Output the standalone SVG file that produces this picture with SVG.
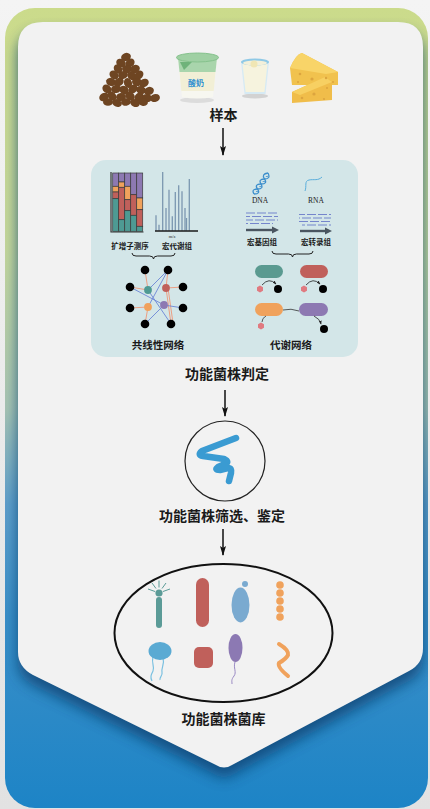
<svg xmlns="http://www.w3.org/2000/svg" width="430" height="809" viewBox="0 0 430 809">
  <defs>
    <linearGradient id="frameGrad" x1="0" y1="0" x2="0" y2="1">
      <stop offset="0" stop-color="#cbdb8b"/>
      <stop offset="0.3" stop-color="#c4d79b"/>
      <stop offset="0.5" stop-color="#a7c4b3"/>
      <stop offset="0.62" stop-color="#5f9fcb"/>
      <stop offset="0.76" stop-color="#3a8fc8"/>
      <stop offset="1" stop-color="#1d84c6"/>
    </linearGradient>
    <linearGradient id="bgGrad" x1="0" y1="0" x2="0" y2="1">
      <stop offset="0" stop-color="#f4f4f4"/>
      <stop offset="1" stop-color="#e2e2e2"/>
    </linearGradient>
    <filter id="shadowBlur" x="-10%" y="-10%" width="120%" height="130%">
      <feGaussianBlur stdDeviation="7"/>
    </filter>
    <clipPath id="frameClip">
      <rect x="5" y="8" width="423" height="800" rx="30"/>
    </clipPath>
    <marker id="arrow" viewBox="0 0 10 6" refX="9" refY="3" markerWidth="10" markerHeight="6" markerUnits="userSpaceOnUse" orient="auto">
      <path d="M0,0 L10,3 L0,6 L2,3 Z" fill="#111"/>
    </marker>
    <marker id="tinyArrow" viewBox="0 0 6 4" refX="5" refY="2" markerWidth="4" markerHeight="3" markerUnits="userSpaceOnUse" orient="auto">
      <path d="M0,0 L6,2 L0,4 Z" fill="#222"/>
    </marker>
    <style>
      .cn { font-family: "Noto Sans CJK SC", "Noto Sans", sans-serif; fill: #1a1a1a; text-anchor: middle; }
      .big { font-size: 14px; font-weight: 700; }
      .mid { font-size: 10.5px; font-weight: 700; }
      .small { font-size: 7.5px; font-weight: 700; }
      .lat { font-family: "Liberation Serif", serif; fill: #222; text-anchor: middle; font-size: 7.5px; }
      .flow { stroke: #111; stroke-width: 1.5; fill: none; }
      .seg { stroke: #3a3a3a; stroke-width: 0.7; }
      .peak { stroke: #7b97b0; stroke-width: 1.3; }
      .bean { fill: #6e4522; }
      .eo { stroke: #ee9677; stroke-width: 0.9; }
      .eb { stroke: #6c86d6; stroke-width: 0.9; }
      .read { stroke: #7585cc; stroke-width: 1.2; stroke-dasharray: 9 2; }
      .brace { stroke: #222; stroke-width: 1; fill: none; }
      .hole { fill: #dca53f; }
    </style>
  </defs>

  <!-- backdrop and frame -->
  <rect width="430" height="809" fill="url(#bgGrad)"/>
  <rect x="5" y="8" width="423" height="800" rx="30" fill="url(#frameGrad)"/>

  <!-- card shadow under the chevron -->
  <g clip-path="url(#frameClip)">
    <path d="M18,47 Q18,22 43,22 H398 Q423,22 423,47 V648 Q423,664 409,671 L232,765 Q224,770 216,765 L33,675 Q18,667 18,652 Z" fill="#0c3e6c" opacity="0.75" filter="url(#shadowBlur)" transform="translate(0,10)"/>
  </g>

  <!-- white card -->
  <path id="card" d="M18,47 Q18,22 43,22 H398 Q423,22 423,47 V648 Q423,664 409,671 L232,765 Q224,770 216,765 L33,675 Q18,667 18,652 Z" fill="#f2f2f2"/>

  <!-- sample icons -->
  <g id="samples">
    <g id="beans">
      <ellipse class="bean" cx="126" cy="57" rx="5" ry="4" transform="rotate(-20 126 57)"/>
      <ellipse class="bean" cx="121" cy="63" rx="5" ry="4" transform="rotate(30 121 63)"/>
      <ellipse class="bean" cx="130" cy="63" rx="5" ry="4" transform="rotate(-40 130 63)"/>
      <ellipse class="bean" cx="118" cy="69" rx="5" ry="4" transform="rotate(60 118 69)"/>
      <ellipse class="bean" cx="127" cy="69" rx="5" ry="4" transform="rotate(10 127 69)"/>
      <ellipse class="bean" cx="135" cy="69" rx="5" ry="4" transform="rotate(-25 135 69)"/>
      <ellipse class="bean" cx="114" cy="75" rx="5" ry="4" transform="rotate(45 114 75)"/>
      <ellipse class="bean" cx="123" cy="75" rx="5" ry="4" transform="rotate(-15 123 75)"/>
      <ellipse class="bean" cx="132" cy="76" rx="5" ry="4" transform="rotate(35 132 76)"/>
      <ellipse class="bean" cx="139" cy="75" rx="5" ry="4" transform="rotate(-50 139 75)"/>
      <ellipse class="bean" cx="111" cy="82" rx="5" ry="4" transform="rotate(20 111 82)"/>
      <ellipse class="bean" cx="119" cy="82" rx="5" ry="4" transform="rotate(-35 119 82)"/>
      <ellipse class="bean" cx="128" cy="83" rx="5" ry="4" transform="rotate(70 128 83)"/>
      <ellipse class="bean" cx="137" cy="82" rx="5" ry="4" transform="rotate(5 137 82)"/>
      <ellipse class="bean" cx="144" cy="83" rx="5" ry="4" transform="rotate(-30 144 83)"/>
      <ellipse class="bean" cx="107" cy="89" rx="5" ry="4" transform="rotate(40 107 89)"/>
      <ellipse class="bean" cx="116" cy="89" rx="5" ry="4" transform="rotate(-10 116 89)"/>
      <ellipse class="bean" cx="124" cy="90" rx="5" ry="4" transform="rotate(25 124 90)"/>
      <ellipse class="bean" cx="133" cy="89" rx="5" ry="4" transform="rotate(-45 133 89)"/>
      <ellipse class="bean" cx="141" cy="90" rx="5" ry="4" transform="rotate(15 141 90)"/>
      <ellipse class="bean" cx="149" cy="91" rx="5" ry="4" transform="rotate(-20 149 91)"/>
      <ellipse class="bean" cx="104" cy="97" rx="5" ry="4" transform="rotate(-30 104 97)"/>
      <ellipse class="bean" cx="112" cy="96" rx="5" ry="4" transform="rotate(50 112 96)"/>
      <ellipse class="bean" cx="121" cy="97" rx="5" ry="4" transform="rotate(-5 121 97)"/>
      <ellipse class="bean" cx="130" cy="96" rx="5" ry="4" transform="rotate(30 130 96)"/>
      <ellipse class="bean" cx="139" cy="97" rx="5" ry="4" transform="rotate(-40 139 97)"/>
      <ellipse class="bean" cx="147" cy="98" rx="5" ry="4" transform="rotate(10 147 98)"/>
      <ellipse class="bean" cx="155" cy="98" rx="5" ry="4" transform="rotate(-15 155 98)"/>
      <ellipse class="bean" cx="108" cy="102" rx="5" ry="3.8" transform="rotate(0 108 102)"/>
      <ellipse class="bean" cx="117" cy="103" rx="5" ry="3.8" transform="rotate(20 117 103)"/>
      <ellipse class="bean" cx="126" cy="102" rx="5" ry="3.8" transform="rotate(-10 126 102)"/>
      <ellipse class="bean" cx="135" cy="103" rx="5" ry="3.8" transform="rotate(25 135 103)"/>
      <ellipse class="bean" cx="143" cy="102" rx="5" ry="3.8" transform="rotate(15 143 102)"/>
    </g>
    <g id="yogurt">
      <ellipse cx="197" cy="100" rx="17" ry="3" fill="#dcdcdc"/>
      <path d="M178,58 L182,97 Q197,100 213,97 L217,58 Z" fill="#f7f7f0"/>
      <path d="M178,58 L179.5,72 H215.5 L217,58 Z" fill="#a9d5ac"/>
      <path d="M179.5,72 L181.3,91 H213.7 L215.5,72 Z" fill="#f2efd6"/>
      <path d="M180,62 L192,62 L184,70 Z" fill="#6fb37a"/>
      <ellipse cx="197.5" cy="57.5" rx="21" ry="4.5" fill="#9fd0a3" stroke="#86c28d" stroke-width="1"/>
      <text x="196" y="86" font-family="Noto Sans CJK SC, sans-serif" font-size="8" font-weight="700" fill="#2f8fd0" text-anchor="middle">酸奶</text>
    </g>
    <g id="milk">
      <ellipse cx="255" cy="96" rx="13" ry="2.5" fill="#d2d2d2"/>
      <path d="M241,62 L244.5,94 H265.5 L269,62 Z" fill="#d6eaf4"/>
      <path d="M242.6,64 L245.6,92 H264.4 L267.4,64 Z" fill="#f6f3de"/>
      <ellipse cx="255" cy="62" rx="14" ry="3.5" fill="#8fc9e6"/>
      <ellipse cx="255" cy="63" rx="12" ry="2.4" fill="#f3f0da"/>
      <circle cx="254" cy="64" r="3.5" fill="#f0e6b4"/>
    </g>
    <g id="cheese">
      <path d="M290,68 Q296,54 302,53 L338,72 L338,85 L292,85 Z" fill="#f1c24e"/>
      <path d="M290,68 Q296,54 302,53 L338,72 L326,74 Z" fill="#f8d468"/>
      <path d="M292,92 L325,77 L332,82 L332,100 L292,103 Z" fill="#f0bd4a"/>
      <path d="M292,92 L325,77 L332,82 L300,95 Z" fill="#f7d062"/>
      <circle class="hole" cx="300" cy="74" r="1.3"/>
      <circle class="hole" cx="312" cy="79" r="1.6"/>
      <circle class="hole" cx="326" cy="78" r="1.2"/>
      <circle class="hole" cx="333" cy="82" r="1"/>
      <circle class="hole" cx="298" cy="82" r="1"/>
      <circle class="hole" cx="302" cy="98" r="1.3"/>
      <circle class="hole" cx="314" cy="94" r="1.6"/>
      <circle class="hole" cx="324" cy="99" r="1.1"/>
      <circle class="hole" cx="327" cy="88" r="1"/>
    </g>
  </g>

  <g id="label-sample">
    <text class="cn big" x="223.5" y="120">样本</text>
  </g>

  <!-- analysis panel -->
  <g id="panel">
    <rect x="91" y="160" width="267" height="197" rx="15" fill="#d3e6e8"/>
  </g>

  <g id="amplicon">
    <path d="M111,172 V232 H143.5" fill="none" stroke="#333" stroke-width="1.2"/>
    <rect class="seg" x="112.7" y="173" width="6" height="13.3" fill="#8d79b2"/>
    <rect class="seg" x="112.7" y="186.3" width="6" height="5.7" fill="#f0a25c"/>
    <rect class="seg" x="112.7" y="192" width="6" height="6.7" fill="#c0605b"/>
    <rect class="seg" x="112.7" y="198.7" width="6" height="32.6" fill="#4e9a93"/>
    <rect class="seg" x="118.7" y="173" width="6" height="9" fill="#8d79b2"/>
    <rect class="seg" x="118.7" y="182" width="6" height="5.3" fill="#f0a25c"/>
    <rect class="seg" x="118.7" y="187.3" width="6" height="32.4" fill="#c0605b"/>
    <rect class="seg" x="118.7" y="219.7" width="6" height="11.6" fill="#4e9a93"/>
    <rect class="seg" x="124.7" y="173" width="6" height="13.3" fill="#8d79b2"/>
    <rect class="seg" x="124.7" y="186.3" width="6" height="13.4" fill="#f0a25c"/>
    <rect class="seg" x="124.7" y="199.7" width="6" height="11" fill="#c0605b"/>
    <rect class="seg" x="124.7" y="210.7" width="6" height="20.6" fill="#4e9a93"/>
    <rect class="seg" x="130.7" y="173" width="6" height="21.7" fill="#8d79b2"/>
    <rect class="seg" x="130.7" y="194.7" width="6" height="20.6" fill="#c0605b"/>
    <rect class="seg" x="130.7" y="215.3" width="6" height="16" fill="#4e9a93"/>
    <rect class="seg" x="136.7" y="173" width="6" height="25" fill="#8d79b2"/>
    <rect class="seg" x="136.7" y="198" width="6" height="11.7" fill="#f0a25c"/>
    <rect class="seg" x="136.7" y="209.7" width="6" height="16.6" fill="#c0605b"/>
    <rect class="seg" x="136.7" y="226.3" width="6" height="5" fill="#4e9a93"/>
    <text class="cn small" x="130" y="249">扩增子测序</text>
  </g>

  <g id="metabolome">
    <line class="peak" x1="156" y1="230.7" x2="156" y2="215.3"/>
    <line class="peak" x1="159" y1="230.7" x2="159" y2="224.7"/>
    <line class="peak" x1="162.7" y1="230.7" x2="162.7" y2="172"/>
    <line class="peak" x1="166" y1="230.7" x2="166" y2="208"/>
    <line class="peak" x1="169" y1="230.7" x2="169" y2="189.7"/>
    <line class="peak" x1="172.3" y1="230.7" x2="172.3" y2="216.3"/>
    <line class="peak" x1="175.3" y1="230.7" x2="175.3" y2="192"/>
    <line class="peak" x1="178.7" y1="230.7" x2="178.7" y2="185.3"/>
    <line class="peak" x1="182" y1="230.7" x2="182" y2="191.3"/>
    <line class="peak" x1="185" y1="230.7" x2="185" y2="208"/>
    <line class="peak" x1="186.5" y1="230.7" x2="186.5" y2="218"/>
    <line class="peak" x1="189.3" y1="230.7" x2="189.3" y2="179"/>
    <line x1="155" y1="231" x2="198" y2="231" stroke="#1a1a1a" stroke-width="1.4"/>
    <text x="172" y="237.5" font-family="Liberation Serif, serif" font-size="4.5" fill="#222" text-anchor="middle">m/z</text>
    <text class="cn small" x="177" y="249">宏代谢组</text>
  </g>

  <g id="omics">
    <path d="M254,194 Q261,194 257.5,189 Q254,184 261,184 Q268,184 264.5,179 Q261,174 268,173" fill="none" stroke="#3d8fcc" stroke-width="1.3"/>
    <path d="M254,194 Q251,189 257.5,189 Q264,189 261,184 Q258,179 264.5,179 Q271,179 268,173" fill="none" stroke="#3d8fcc" stroke-width="1.3"/>
    <path d="M256,191.5 L258.5,191.3 M259.3,186.6 L261.8,186.4 M262.6,181.6 L265,181.4 M265.8,176.6 L268,176.3" stroke="#3d8fcc" stroke-width="0.8"/>
    <text class="lat" x="260" y="203">DNA</text>
    <path d="M305,191 C307,186 304,181 309,180 S318,181 322,177" fill="none" stroke="#5aaedc" stroke-width="1"/>
    <text class="lat" x="316" y="203">RNA</text>

    <line class="read" x1="246" y1="213" x2="278" y2="213"/>
    <line class="read" x1="246" y1="216.5" x2="278" y2="216.5" stroke-dashoffset="5"/>
    <line class="read" x1="246" y1="220" x2="278" y2="220" stroke-dashoffset="2"/>
    <line class="read" x1="246" y1="223.5" x2="273" y2="223.5" stroke-dashoffset="7"/>
    <line x1="246" y1="230" x2="273" y2="230" stroke="#4a5560" stroke-width="2.4"/>
    <path d="M272,226.5 L279,230 L272,233.5 Z" fill="#4a5560"/>
    <text class="cn small" x="262" y="245">宏基因组</text>

    <line class="read" x1="299" y1="214.5" x2="331" y2="214.5" stroke-dashoffset="3"/>
    <line class="read" x1="299" y1="218" x2="331" y2="218" stroke-dashoffset="8"/>
    <line class="read" x1="299" y1="221.5" x2="331" y2="221.5"/>
    <line class="read" x1="302" y1="225" x2="331" y2="225" stroke-dashoffset="6"/>
    <line x1="300" y1="231" x2="326" y2="231" stroke="#4a5560" stroke-width="2.4"/>
    <path d="M325,227.5 L332,231 L325,234.5 Z" fill="#4a5560"/>
    <text class="cn small" x="316" y="245">宏转录组</text>
  </g>

  <g id="braces">
    <path class="brace" d="M132,253 Q132,256 136,256 H149.5 Q153.5,256 153.5,259 Q153.5,256 157.5,256 H171 Q175,256 175,253"/>
    <path class="brace" d="M272,251 Q272,254 276,254 H288.5 Q292.5,254 292.5,257 Q292.5,254 296.5,254 H309 Q313,254 313,251"/>
  </g>

  <g id="coexpression">
    <g>
      <line class="eo" x1="145" y1="270" x2="148" y2="290"/>
      <line class="eo" x1="130" y1="287" x2="148" y2="290"/>
      <line class="eo" x1="168" y1="270" x2="166" y2="288"/>
      <line class="eo" x1="166" y1="288" x2="183" y2="287"/>
      <line class="eo" x1="166" y1="288" x2="171" y2="324"/>
      <line class="eo" x1="168" y1="288" x2="173" y2="323"/>
      <line class="eo" x1="148" y1="307" x2="130" y2="308"/>
      <line class="eo" x1="148" y1="307" x2="145" y2="324"/>
      <line class="eb" x1="168" y1="270" x2="148" y2="307"/>
      <line class="eb" x1="168" y1="270" x2="148" y2="290"/>
      <line class="eb" x1="130" y1="287" x2="164" y2="305"/>
      <line class="eb" x1="148" y1="290" x2="171" y2="324"/>
      <line class="eb" x1="164" y1="305" x2="183" y2="308"/>
      <line class="eb" x1="164" y1="305" x2="145" y2="324"/>
    </g>
    <circle cx="145" cy="270" r="4.3" fill="#000"/>
    <circle cx="168" cy="270" r="4.3" fill="#000"/>
    <circle cx="130" cy="287" r="4.3" fill="#000"/>
    <circle cx="183" cy="287" r="4.3" fill="#000"/>
    <circle cx="130" cy="308" r="4.3" fill="#000"/>
    <circle cx="183" cy="308" r="4.3" fill="#000"/>
    <circle cx="145" cy="324" r="4.3" fill="#000"/>
    <circle cx="171" cy="324" r="4.3" fill="#000"/>
    <circle cx="148" cy="290" r="3.9" fill="#4e9a93"/>
    <circle cx="166" cy="288" r="3.9" fill="#c0605b"/>
    <circle cx="148" cy="307" r="3.9" fill="#f0a25c"/>
    <circle cx="164" cy="305" r="3.9" fill="#8d79b2"/>
    <text class="cn mid" x="158" y="349">共线性网络</text>
  </g>

  <g id="metabolic-network">
    <rect x="255" y="265" width="28" height="13" rx="6.5" fill="#5a9a90"/>
    <rect x="300" y="265" width="28" height="13" rx="6.5" fill="#c0605b"/>
    <rect x="255" y="303" width="28" height="13" rx="6.5" fill="#f0a25c"/>
    <rect x="299" y="303" width="29" height="13" rx="6.5" fill="#8d79b2"/>
    <path d="M262,285 Q269,277 276,284" fill="none" stroke="#222" stroke-width="0.8" marker-end="url(#tinyArrow)"/>
    <path d="M306,285 Q313,277 320,284" fill="none" stroke="#222" stroke-width="0.8" marker-end="url(#tinyArrow)"/>
    <path d="M283,310 Q291,308 299,311" fill="none" stroke="#333" stroke-width="0.8"/>
    <path d="M266,316 Q262,318 262,322" fill="none" stroke="#333" stroke-width="0.8"/>
    <path d="M314,316 Q320,319 321,324" fill="none" stroke="#222" stroke-width="0.8" marker-end="url(#tinyArrow)"/>
    <polygon points="260,285.5 263,287.2 263,290.8 260,292.5 257,290.8 257,287.2" fill="#e07a80"/>
    <polygon points="304,285.5 307,287.2 307,290.8 304,292.5 301,290.8 301,287.2" fill="#e07a80"/>
    <polygon points="261,322.5 264,324.2 264,327.8 261,329.5 258,327.8 258,324.2" fill="#e07a80"/>
    <circle cx="278" cy="289" r="4" fill="#000"/>
    <circle cx="323" cy="289" r="4" fill="#000"/>
    <circle cx="324" cy="329" r="4" fill="#000"/>
    <text class="cn mid" x="291" y="349">代谢网络</text>
  </g>

  <g id="label-judge">
    <text class="cn big" x="227" y="379">功能菌株判定</text>
  </g>

  <g id="strain">
    <circle cx="225" cy="461" r="40" fill="none" stroke="#222" stroke-width="1.2"/>
    <path d="M236,438 L202,451 Q197,455 203,456 L224,459 Q230,462 225,464 L218,467 Q214,470 220,470 L228,468 Q232,468 231,473 L229,481" fill="none" stroke="#3a9bd2" stroke-width="6.5" stroke-linecap="round" stroke-linejoin="round"/>
  </g>

  <g id="label-screen">
    <text class="cn big" x="222" y="521">功能菌株筛选、鉴定</text>
  </g>

  <g id="library">
    <ellipse cx="223.5" cy="633" rx="109" ry="69" fill="none" stroke="#111" stroke-width="2"/>
    <g id="teal-rod">
      <rect x="156" y="597" width="6" height="31" rx="3" fill="#5b9b97"/>
      <circle cx="159" cy="593" r="3.6" fill="#5b9b97"/>
      <path d="M155,591.5 L148,589 M156,588.5 L152,583 M159,587.5 L159,580.5 M162,588.5 L166,583 M163,591.5 L170,589" stroke="#5b9b97" stroke-width="1"/>
    </g>
    <rect id="red-rod" x="196" y="578" width="13" height="49" rx="6.5" fill="#c0605b"/>
    <g id="blue-oval">
      <ellipse cx="240.5" cy="605" rx="9" ry="17.5" fill="#7aaad0"/>
      <circle cx="245" cy="584" r="3" fill="#7aaad0"/>
    </g>
    <g id="orange-chain" fill="#f0a25c">
      <circle cx="280" cy="585" r="3.8"/>
      <circle cx="280" cy="593" r="3.8"/>
      <circle cx="280" cy="601" r="3.8"/>
      <circle cx="280" cy="609" r="3.8"/>
      <circle cx="280" cy="617" r="3.8"/>
    </g>
    <g id="blue-round">
      <path d="M153,657 C151,663 155,667 153,671 S150,677 152,681" fill="none" stroke="#7ac0e0" stroke-width="1.2"/>
      <path d="M163,658 C165,664 161,668 162,672 S159,677 160,680" fill="none" stroke="#7ac0e0" stroke-width="1.2"/>
      <ellipse cx="160" cy="651" rx="11.5" ry="9" fill="#5aaad3"/>
    </g>
    <rect id="red-square" x="194" y="647" width="19" height="21" rx="5" fill="#c0605b"/>
    <g id="purple-oval">
      <path d="M235,662 C233,668 237,672 234,676 S232,681 232,684" fill="none" stroke="#9a8ac4" stroke-width="1"/>
      <ellipse cx="235.5" cy="648" rx="7" ry="14" fill="#8c79b3"/>
    </g>
    <path id="orange-spiral" d="M279,644 Q289,650 288,655 Q286,659 279,663 Q277,667 288,676" fill="none" stroke="#f0a25c" stroke-width="4" stroke-linecap="round"/>
  </g>

  <g id="label-library">
    <text class="cn big" x="223.5" y="724">功能菌株菌库</text>
  </g>

  <!-- flow arrows -->
  <g id="connectors">
    <line class="flow" x1="223" y1="128" x2="223" y2="155" marker-end="url(#arrow)"/>
    <line class="flow" x1="225" y1="390" x2="225" y2="416" marker-end="url(#arrow)"/>
    <line class="flow" x1="223" y1="529" x2="223" y2="555" marker-end="url(#arrow)"/>
  </g>
</svg>
